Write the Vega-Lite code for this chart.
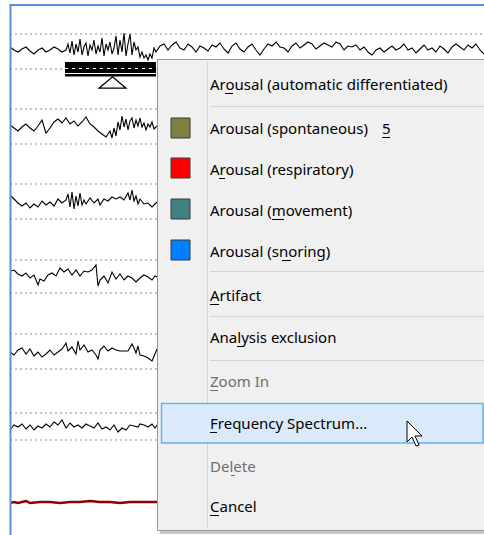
{
  "$schema": "https://vega.github.io/schema/vega-lite/v6.json",
  "width": 484,
  "height": 535,
  "padding": 0,
  "autosize": {"type": "none"},
  "background": "white",
  "config": {"view": {"stroke": null}},
  "datasets": {
    "dashes": [
      {"x": 10, "x2": 484, "y": 34}, {"x": 10, "x2": 484, "y": 69},
      {"x": 10, "x2": 484, "y": 109}, {"x": 10, "x2": 484, "y": 144},
      {"x": 10, "x2": 484, "y": 184}, {"x": 10, "x2": 484, "y": 219},
      {"x": 10, "x2": 484, "y": 260}, {"x": 10, "x2": 484, "y": 293},
      {"x": 10, "x2": 484, "y": 334}, {"x": 10, "x2": 484, "y": 369},
      {"x": 10, "x2": 484, "y": 413}, {"x": 10, "x2": 484, "y": 440}
    ],
    "traces": [
      {"ch":"c1","x":10,"y":47},{"ch":"c1","x":14,"y":50},{"ch":"c1","x":18,"y":52},{"ch":"c1","x":22,"y":49},{"ch":"c1","x":26,"y":47},{"ch":"c1","x":30,"y":51},{"ch":"c1","x":34,"y":54},{"ch":"c1","x":38,"y":50},{"ch":"c1","x":42,"y":48},{"ch":"c1","x":46,"y":52},{"ch":"c1","x":50,"y":50},{"ch":"c1","x":54,"y":47},{"ch":"c1","x":58,"y":49},{"ch":"c1","x":62,"y":52},{"ch":"c1","x":66,"y":50},{"ch":"c1","x":68,"y":44},{"ch":"c1","x":70,"y":53},{"ch":"c1","x":72,"y":41},{"ch":"c1","x":74,"y":55},{"ch":"c1","x":76,"y":44},{"ch":"c1","x":78,"y":52},{"ch":"c1","x":80,"y":39},{"ch":"c1","x":82,"y":55},{"ch":"c1","x":84,"y":47},{"ch":"c1","x":86,"y":43},{"ch":"c1","x":88,"y":56},{"ch":"c1","x":90,"y":45},{"ch":"c1","x":92,"y":50},{"ch":"c1","x":94,"y":40},{"ch":"c1","x":96,"y":54},{"ch":"c1","x":98,"y":46},{"ch":"c1","x":100,"y":52},{"ch":"c1","x":102,"y":38},{"ch":"c1","x":104,"y":56},{"ch":"c1","x":106,"y":44},{"ch":"c1","x":108,"y":50},{"ch":"c1","x":110,"y":42},{"ch":"c1","x":112,"y":54},{"ch":"c1","x":114,"y":48},{"ch":"c1","x":116,"y":36},{"ch":"c1","x":118,"y":55},{"ch":"c1","x":120,"y":40},{"ch":"c1","x":122,"y":52},{"ch":"c1","x":124,"y":33},{"ch":"c1","x":126,"y":56},{"ch":"c1","x":128,"y":44},{"ch":"c1","x":130,"y":34},{"ch":"c1","x":132,"y":55},{"ch":"c1","x":134,"y":42},{"ch":"c1","x":136,"y":50},{"ch":"c1","x":138,"y":47},{"ch":"c1","x":140,"y":57},{"ch":"c1","x":142,"y":52},{"ch":"c1","x":144,"y":58},{"ch":"c1","x":146,"y":55},{"ch":"c1","x":148,"y":60},{"ch":"c1","x":150,"y":54},{"ch":"c1","x":152,"y":58},{"ch":"c1","x":154,"y":48},{"ch":"c1","x":156,"y":52},{"ch":"c1","x":160,"y":46},{"ch":"c1","x":164,"y":44},{"ch":"c1","x":168,"y":50},{"ch":"c1","x":172,"y":45},{"ch":"c1","x":176,"y":42},{"ch":"c1","x":180,"y":48},{"ch":"c1","x":184,"y":50},{"ch":"c1","x":188,"y":44},{"ch":"c1","x":192,"y":47},{"ch":"c1","x":196,"y":52},{"ch":"c1","x":200,"y":46},{"ch":"c1","x":204,"y":48},{"ch":"c1","x":208,"y":51},{"ch":"c1","x":212,"y":45},{"ch":"c1","x":216,"y":47},{"ch":"c1","x":220,"y":43},{"ch":"c1","x":224,"y":49},{"ch":"c1","x":228,"y":53},{"ch":"c1","x":232,"y":46},{"ch":"c1","x":236,"y":43},{"ch":"c1","x":240,"y":49},{"ch":"c1","x":244,"y":52},{"ch":"c1","x":248,"y":47},{"ch":"c1","x":252,"y":44},{"ch":"c1","x":256,"y":50},{"ch":"c1","x":260,"y":55},{"ch":"c1","x":264,"y":49},{"ch":"c1","x":268,"y":44},{"ch":"c1","x":272,"y":46},{"ch":"c1","x":276,"y":42},{"ch":"c1","x":280,"y":47},{"ch":"c1","x":284,"y":48},{"ch":"c1","x":288,"y":52},{"ch":"c1","x":292,"y":46},{"ch":"c1","x":296,"y":43},{"ch":"c1","x":300,"y":48},{"ch":"c1","x":304,"y":45},{"ch":"c1","x":308,"y":42},{"ch":"c1","x":312,"y":44},{"ch":"c1","x":316,"y":49},{"ch":"c1","x":320,"y":46},{"ch":"c1","x":324,"y":43},{"ch":"c1","x":328,"y":45},{"ch":"c1","x":332,"y":47},{"ch":"c1","x":336,"y":42},{"ch":"c1","x":340,"y":44},{"ch":"c1","x":344,"y":50},{"ch":"c1","x":348,"y":46},{"ch":"c1","x":352,"y":47},{"ch":"c1","x":356,"y":45},{"ch":"c1","x":360,"y":50},{"ch":"c1","x":364,"y":47},{"ch":"c1","x":368,"y":52},{"ch":"c1","x":372,"y":55},{"ch":"c1","x":376,"y":50},{"ch":"c1","x":380,"y":48},{"ch":"c1","x":384,"y":52},{"ch":"c1","x":388,"y":49},{"ch":"c1","x":392,"y":46},{"ch":"c1","x":396,"y":50},{"ch":"c1","x":400,"y":48},{"ch":"c1","x":404,"y":44},{"ch":"c1","x":408,"y":50},{"ch":"c1","x":412,"y":48},{"ch":"c1","x":416,"y":53},{"ch":"c1","x":420,"y":49},{"ch":"c1","x":424,"y":45},{"ch":"c1","x":428,"y":50},{"ch":"c1","x":432,"y":48},{"ch":"c1","x":436,"y":52},{"ch":"c1","x":440,"y":46},{"ch":"c1","x":444,"y":49},{"ch":"c1","x":448,"y":53},{"ch":"c1","x":452,"y":47},{"ch":"c1","x":456,"y":44},{"ch":"c1","x":460,"y":47},{"ch":"c1","x":464,"y":50},{"ch":"c1","x":468,"y":45},{"ch":"c1","x":472,"y":48},{"ch":"c1","x":476,"y":44},{"ch":"c1","x":480,"y":50},{"ch":"c1","x":484,"y":54},
      {"ch":"c2","x":10,"y":125},{"ch":"c2","x":14,"y":128},{"ch":"c2","x":18,"y":131},{"ch":"c2","x":22,"y":127},{"ch":"c2","x":26,"y":124},{"ch":"c2","x":30,"y":128},{"ch":"c2","x":34,"y":131},{"ch":"c2","x":38,"y":126},{"ch":"c2","x":42,"y":120},{"ch":"c2","x":46,"y":133},{"ch":"c2","x":50,"y":128},{"ch":"c2","x":54,"y":122},{"ch":"c2","x":58,"y":119},{"ch":"c2","x":62,"y":123},{"ch":"c2","x":66,"y":118},{"ch":"c2","x":70,"y":124},{"ch":"c2","x":74,"y":121},{"ch":"c2","x":78,"y":126},{"ch":"c2","x":82,"y":122},{"ch":"c2","x":86,"y":117},{"ch":"c2","x":90,"y":124},{"ch":"c2","x":94,"y":127},{"ch":"c2","x":98,"y":131},{"ch":"c2","x":102,"y":134},{"ch":"c2","x":106,"y":137},{"ch":"c2","x":110,"y":131},{"ch":"c2","x":112,"y":138},{"ch":"c2","x":114,"y":128},{"ch":"c2","x":116,"y":136},{"ch":"c2","x":118,"y":122},{"ch":"c2","x":120,"y":130},{"ch":"c2","x":122,"y":116},{"ch":"c2","x":124,"y":127},{"ch":"c2","x":126,"y":119},{"ch":"c2","x":128,"y":130},{"ch":"c2","x":130,"y":121},{"ch":"c2","x":132,"y":118},{"ch":"c2","x":134,"y":128},{"ch":"c2","x":136,"y":120},{"ch":"c2","x":138,"y":126},{"ch":"c2","x":140,"y":118},{"ch":"c2","x":142,"y":127},{"ch":"c2","x":144,"y":123},{"ch":"c2","x":146,"y":130},{"ch":"c2","x":148,"y":124},{"ch":"c2","x":150,"y":127},{"ch":"c2","x":152,"y":122},{"ch":"c2","x":154,"y":129},{"ch":"c2","x":157,"y":126},
      {"ch":"c3","x":10,"y":195},{"ch":"c3","x":14,"y":199},{"ch":"c3","x":18,"y":203},{"ch":"c3","x":22,"y":206},{"ch":"c3","x":26,"y":203},{"ch":"c3","x":30,"y":208},{"ch":"c3","x":34,"y":204},{"ch":"c3","x":38,"y":207},{"ch":"c3","x":42,"y":201},{"ch":"c3","x":46,"y":205},{"ch":"c3","x":50,"y":202},{"ch":"c3","x":54,"y":206},{"ch":"c3","x":58,"y":199},{"ch":"c3","x":62,"y":203},{"ch":"c3","x":66,"y":200},{"ch":"c3","x":68,"y":194},{"ch":"c3","x":70,"y":207},{"ch":"c3","x":72,"y":192},{"ch":"c3","x":74,"y":209},{"ch":"c3","x":76,"y":196},{"ch":"c3","x":78,"y":206},{"ch":"c3","x":80,"y":193},{"ch":"c3","x":82,"y":205},{"ch":"c3","x":84,"y":200},{"ch":"c3","x":86,"y":204},{"ch":"c3","x":90,"y":198},{"ch":"c3","x":94,"y":203},{"ch":"c3","x":98,"y":199},{"ch":"c3","x":100,"y":205},{"ch":"c3","x":104,"y":199},{"ch":"c3","x":108,"y":201},{"ch":"c3","x":112,"y":197},{"ch":"c3","x":116,"y":199},{"ch":"c3","x":120,"y":197},{"ch":"c3","x":124,"y":200},{"ch":"c3","x":128,"y":193},{"ch":"c3","x":130,"y":200},{"ch":"c3","x":132,"y":190},{"ch":"c3","x":134,"y":201},{"ch":"c3","x":136,"y":196},{"ch":"c3","x":138,"y":204},{"ch":"c3","x":140,"y":199},{"ch":"c3","x":144,"y":204},{"ch":"c3","x":148,"y":203},{"ch":"c3","x":152,"y":207},{"ch":"c3","x":155,"y":204},{"ch":"c3","x":157,"y":202},
      {"ch":"c4","x":10,"y":271},{"ch":"c4","x":14,"y":270},{"ch":"c4","x":18,"y":274},{"ch":"c4","x":22,"y":276},{"ch":"c4","x":26,"y":273},{"ch":"c4","x":30,"y":278},{"ch":"c4","x":34,"y":275},{"ch":"c4","x":38,"y":285},{"ch":"c4","x":40,"y":279},{"ch":"c4","x":44,"y":281},{"ch":"c4","x":48,"y":275},{"ch":"c4","x":52,"y":273},{"ch":"c4","x":56,"y":276},{"ch":"c4","x":60,"y":268},{"ch":"c4","x":64,"y":272},{"ch":"c4","x":68,"y":269},{"ch":"c4","x":72,"y":275},{"ch":"c4","x":76,"y":270},{"ch":"c4","x":80,"y":276},{"ch":"c4","x":84,"y":271},{"ch":"c4","x":88,"y":272},{"ch":"c4","x":92,"y":270},{"ch":"c4","x":96,"y":265},{"ch":"c4","x":98,"y":286},{"ch":"c4","x":100,"y":280},{"ch":"c4","x":104,"y":276},{"ch":"c4","x":108,"y":283},{"ch":"c4","x":112,"y":272},{"ch":"c4","x":116,"y":279},{"ch":"c4","x":120,"y":274},{"ch":"c4","x":124,"y":280},{"ch":"c4","x":128,"y":276},{"ch":"c4","x":132,"y":278},{"ch":"c4","x":136,"y":282},{"ch":"c4","x":140,"y":278},{"ch":"c4","x":144,"y":275},{"ch":"c4","x":148,"y":277},{"ch":"c4","x":152,"y":280},{"ch":"c4","x":155,"y":276},{"ch":"c4","x":157,"y":277},
      {"ch":"c5","x":10,"y":352},{"ch":"c5","x":14,"y":355},{"ch":"c5","x":18,"y":350},{"ch":"c5","x":22,"y":348},{"ch":"c5","x":26,"y":354},{"ch":"c5","x":30,"y":349},{"ch":"c5","x":34,"y":356},{"ch":"c5","x":38,"y":352},{"ch":"c5","x":42,"y":357},{"ch":"c5","x":46,"y":354},{"ch":"c5","x":50,"y":350},{"ch":"c5","x":54,"y":355},{"ch":"c5","x":58,"y":352},{"ch":"c5","x":62,"y":349},{"ch":"c5","x":66,"y":343},{"ch":"c5","x":68,"y":351},{"ch":"c5","x":72,"y":347},{"ch":"c5","x":76,"y":354},{"ch":"c5","x":78,"y":341},{"ch":"c5","x":80,"y":350},{"ch":"c5","x":84,"y":345},{"ch":"c5","x":88,"y":352},{"ch":"c5","x":92,"y":350},{"ch":"c5","x":96,"y":355},{"ch":"c5","x":98,"y":359},{"ch":"c5","x":100,"y":350},{"ch":"c5","x":104,"y":346},{"ch":"c5","x":108,"y":351},{"ch":"c5","x":112,"y":348},{"ch":"c5","x":116,"y":350},{"ch":"c5","x":120,"y":351},{"ch":"c5","x":124,"y":351},{"ch":"c5","x":128,"y":351},{"ch":"c5","x":132,"y":344},{"ch":"c5","x":134,"y":348},{"ch":"c5","x":136,"y":353},{"ch":"c5","x":138,"y":346},{"ch":"c5","x":140,"y":355},{"ch":"c5","x":144,"y":356},{"ch":"c5","x":148,"y":358},{"ch":"c5","x":152,"y":361},{"ch":"c5","x":155,"y":354},{"ch":"c5","x":157,"y":349},
      {"ch":"c6","x":10,"y":430},{"ch":"c6","x":14,"y":425},{"ch":"c6","x":18,"y":427},{"ch":"c6","x":22,"y":424},{"ch":"c6","x":26,"y":429},{"ch":"c6","x":30,"y":425},{"ch":"c6","x":34,"y":430},{"ch":"c6","x":38,"y":426},{"ch":"c6","x":42,"y":428},{"ch":"c6","x":46,"y":424},{"ch":"c6","x":50,"y":427},{"ch":"c6","x":54,"y":422},{"ch":"c6","x":58,"y":425},{"ch":"c6","x":62,"y":420},{"ch":"c6","x":64,"y":424},{"ch":"c6","x":66,"y":428},{"ch":"c6","x":70,"y":423},{"ch":"c6","x":74,"y":427},{"ch":"c6","x":78,"y":425},{"ch":"c6","x":82,"y":428},{"ch":"c6","x":86,"y":424},{"ch":"c6","x":90,"y":426},{"ch":"c6","x":94,"y":428},{"ch":"c6","x":98,"y":423},{"ch":"c6","x":102,"y":429},{"ch":"c6","x":106,"y":427},{"ch":"c6","x":110,"y":430},{"ch":"c6","x":114,"y":425},{"ch":"c6","x":118,"y":432},{"ch":"c6","x":122,"y":428},{"ch":"c6","x":126,"y":430},{"ch":"c6","x":130,"y":425},{"ch":"c6","x":134,"y":426},{"ch":"c6","x":138,"y":427},{"ch":"c6","x":140,"y":424},{"ch":"c6","x":144,"y":425},{"ch":"c6","x":148,"y":427},{"ch":"c6","x":152,"y":424},{"ch":"c6","x":155,"y":428},{"ch":"c6","x":157,"y":425}
    ],
    "redtrace": [
      {"x":10,"y":503},{"x":14,"y":502},{"x":18,"y":503},{"x":22,"y":502},{"x":26,"y":501},{"x":30,"y":503},{"x":40,"y":502},{"x":50,"y":502},{"x":60,"y":503},{"x":70,"y":502},{"x":80,"y":502},{"x":90,"y":501},{"x":100,"y":502},{"x":110,"y":502},{"x":120,"y":503},{"x":130,"y":502},{"x":140,"y":502},{"x":150,"y":502},{"x":157,"y":502}
    ],
    "event": [{"x": 65, "x2": 156, "y": 62, "y2": 76.5}],
    "eventlines": [{"x": 65, "x2": 156, "y": 73.5, "kind": "solid"}, {"x": 65, "x2": 156, "y": 68.5, "kind": "dashed"}],
    "marker": [{"x": 112.5, "y": 82.5}],
    "frame": [{"x": 10.5, "x2": 10.5, "y": 4, "y2": 535}, {"x": 10, "x2": 484, "y": 5, "y2": 5}],
    "shadow": [{"x": 160, "x2": 490, "y": 62, "y2": 534}],
    "menu": [{"x": 157.5, "x2": 490, "y": 59.5, "y2": 530.5}],
    "gutter": [{"x": 207.5, "x2": 207.5, "y": 62, "y2": 528}],
    "separators": [{"x": 210, "x2": 484, "y": 106.5}, {"x": 210, "x2": 484, "y": 271.5}, {"x": 210, "x2": 484, "y": 316.5}, {"x": 210, "x2": 484, "y": 360.5}],
    "hover": [{"x": 161.5, "x2": 483, "y": 403.5, "y2": 443}],
    "swatches": [
      {"kind": "spontaneous", "x": 171, "x2": 190, "y": 118, "y2": 138},
      {"kind": "respiratory", "x": 171, "x2": 190, "y": 158, "y2": 178},
      {"kind": "movement", "x": 171, "x2": 190, "y": 199, "y2": 219},
      {"kind": "snoring", "x": 171, "x2": 190, "y": 240, "y2": 260}
    ],
    "items": [
      {"t": "Arousal (automatic differentiated)", "x": 210, "y": 90, "s": "on"},
      {"t": "Arousal (spontaneous)", "x": 210, "y": 134, "s": "on"},
      {"t": "5", "x": 382, "y": 134, "s": "on"},
      {"t": "Arousal (respiratory)", "x": 210, "y": 175, "s": "on"},
      {"t": "Arousal (movement)", "x": 210, "y": 216, "s": "on"},
      {"t": "Arousal (snoring)", "x": 210, "y": 257, "s": "on"},
      {"t": "Artifact", "x": 210, "y": 301, "s": "on"},
      {"t": "Analysis exclusion", "x": 210, "y": 343, "s": "on"},
      {"t": "Zoom In", "x": 210, "y": 387, "s": "off"},
      {"t": "Frequency Spectrum...", "x": 210, "y": 429, "s": "on"},
      {"t": "Delete", "x": 210, "y": 472, "s": "off"},
      {"t": "Cancel", "x": 210, "y": 512, "s": "on"}
    ],
    "underlines": [
      {"x": 225, "x2": 233, "y": 93.5, "s": "on"},
      {"x": 382, "x2": 390, "y": 137.5, "s": "on"},
      {"x": 219, "x2": 225, "y": 178.5, "s": "on"},
      {"x": 272, "x2": 284, "y": 219.5, "s": "on"},
      {"x": 282, "x2": 291, "y": 260.5, "s": "on"},
      {"x": 210, "x2": 219, "y": 304.5, "s": "on"},
      {"x": 237, "x2": 244, "y": 346.5, "s": "on"},
      {"x": 210, "x2": 218, "y": 390.5, "s": "off"},
      {"x": 210, "x2": 217, "y": 432.5, "s": "on"},
      {"x": 231, "x2": 235, "y": 475.5, "s": "off"},
      {"x": 210, "x2": 219, "y": 515.5, "s": "on"}
    ],
    "pointer": [{"x": 415, "y": 433.5}]
  },
  "encoding": {
    "x": {"field": "x", "type": "quantitative", "scale": {"domain": [0, 484], "nice": false, "zero": false}, "axis": null},
    "y": {"field": "y", "type": "quantitative", "scale": {"domain": [0, 535], "nice": false, "zero": false, "reverse": true}, "axis": null}
  },
  "layer": [
    {"data": {"name": "dashes"}, "mark": {"type": "rule", "stroke": "#8a8a8a", "strokeWidth": 1, "strokeDash": [2, 3]}, "encoding": {"x2": {"field": "x2"}}},
    {"data": {"name": "traces"}, "mark": {"type": "line", "stroke": "#000000", "strokeWidth": 1.1, "interpolate": "linear"}, "encoding": {"detail": {"field": "ch", "type": "nominal"}}},
    {"data": {"name": "redtrace"}, "mark": {"type": "line", "stroke": "#8b0000", "strokeWidth": 2.5}, "encoding": {}},
    {"data": {"name": "event"}, "mark": {"type": "rect", "fill": "#000000"}, "encoding": {"x2": {"field": "x2"}, "y2": {"field": "y2"}}},
    {"data": {"name": "eventlines"}, "mark": {"type": "rule", "stroke": "#ffffff", "strokeWidth": 1}, "encoding": {"x2": {"field": "x2"}, "strokeDash": {"field": "kind", "type": "nominal", "scale": {"domain": ["solid", "dashed"], "range": [[1, 0], [3, 4]]}, "legend": null}}},
    {"data": {"name": "marker"}, "mark": {"type": "point", "shape": "M0,-0.42L1,0.42L-1,0.42Z", "size": 729, "filled": true, "fill": "#ffffff", "stroke": "#000000", "strokeWidth": 1.2, "opacity": 1}, "encoding": {}},
    {"data": {"name": "frame"}, "mark": {"type": "rule", "stroke": "#5b8ddb", "strokeWidth": 2}, "encoding": {"x2": {"field": "x2"}, "y2": {"field": "y2"}}},
    {"data": {"name": "shadow"}, "mark": {"type": "rect", "fill": "#9a9a9a", "opacity": 0.55}, "encoding": {"x2": {"field": "x2"}, "y2": {"field": "y2"}}},
    {"data": {"name": "menu"}, "mark": {"type": "rect", "fill": "#f0f0f0", "stroke": "#979797", "strokeWidth": 1}, "encoding": {"x2": {"field": "x2"}, "y2": {"field": "y2"}}},
    {"data": {"name": "gutter"}, "mark": {"type": "rule", "stroke": "#d4d4d4", "strokeWidth": 1}, "encoding": {"x2": {"field": "x2"}, "y2": {"field": "y2"}}},
    {"data": {"name": "separators"}, "mark": {"type": "rule", "stroke": "#d4d4d4", "strokeWidth": 1}, "encoding": {"x2": {"field": "x2"}}},
    {"data": {"name": "hover"}, "mark": {"type": "rect", "fill": "#dbeafb", "stroke": "#66b3e6", "strokeWidth": 1.5}, "encoding": {"x2": {"field": "x2"}, "y2": {"field": "y2"}}},
    {"data": {"name": "swatches"}, "mark": {"type": "rect", "stroke": "#3a3a3a", "strokeWidth": 1}, "encoding": {"x2": {"field": "x2"}, "y2": {"field": "y2"}, "fill": {"field": "kind", "type": "nominal", "scale": {"domain": ["spontaneous", "respiratory", "movement", "snoring"], "range": ["#808040", "#ff0000", "#408080", "#0080ff"]}, "legend": null}}},
    {"data": {"name": "items"}, "mark": {"type": "text", "align": "left", "baseline": "alphabetic", "font": "Noto Sans", "fontSize": 15}, "encoding": {"text": {"field": "t"}, "color": {"field": "s", "type": "nominal", "scale": {"domain": ["on", "off"], "range": ["#000000", "#6d6d6d"]}, "legend": null}}},
    {"data": {"name": "underlines"}, "mark": {"type": "rule", "strokeWidth": 1}, "encoding": {"x2": {"field": "x2"}, "color": {"field": "s", "type": "nominal", "scale": {"domain": ["on", "off"], "range": ["#000000", "#6d6d6d"]}, "legend": null}}},
    {"data": {"name": "pointer"}, "mark": {"type": "point", "shape": "M-0.615,-0.96L-0.615,0.65L-0.23,0.27L0.077,0.96L0.31,0.88L0,0.19L0.54,0.19Z", "size": 676, "filled": true, "fill": "#ffffff", "stroke": "#000000", "strokeWidth": 1, "opacity": 1}, "encoding": {}}
  ]
}
